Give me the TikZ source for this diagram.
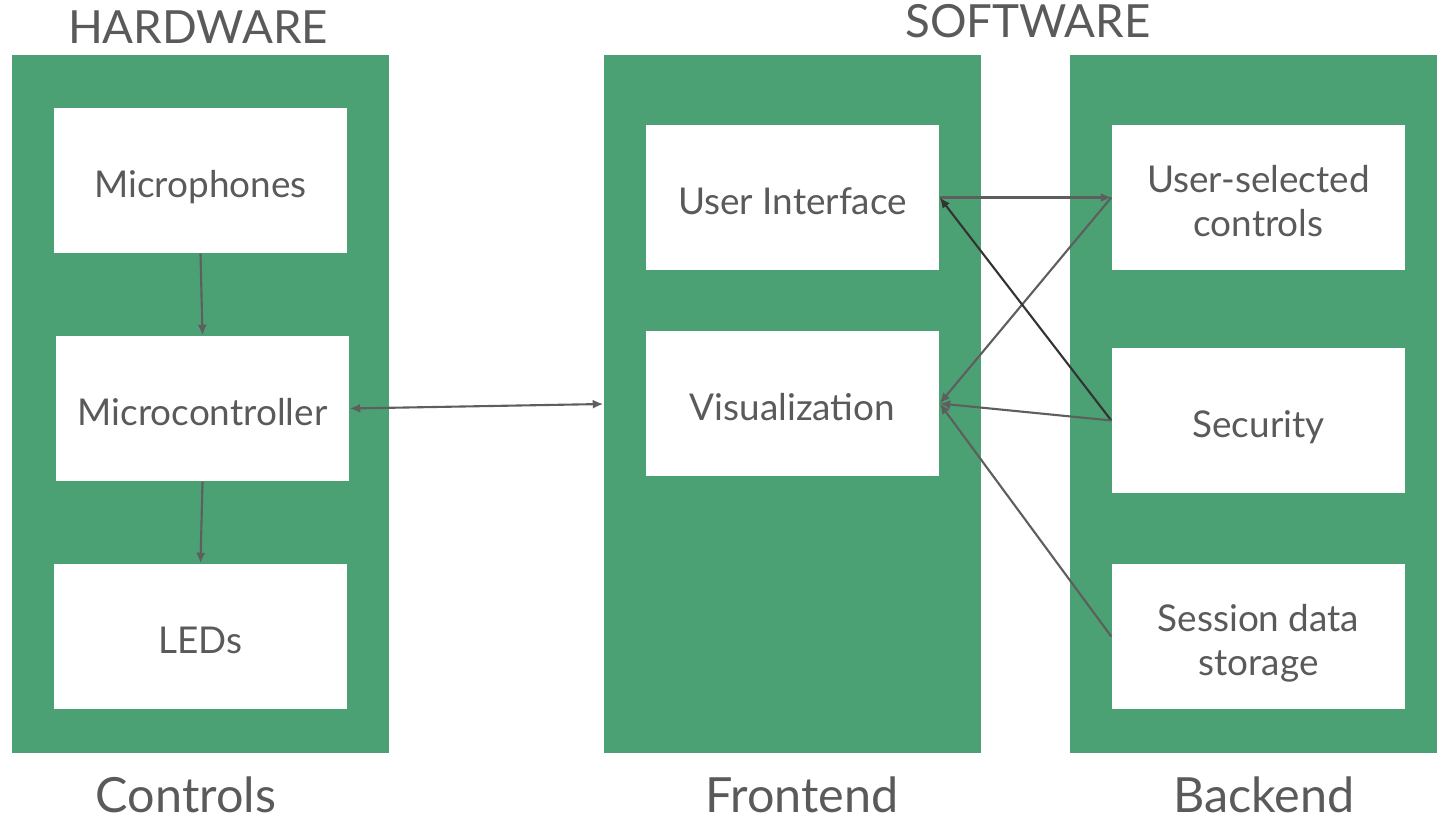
\documentclass[tikz,border=0pt]{standalone}
\usepackage{fontspec}
\setmainfont{Lato}
\usetikzlibrary{arrows.meta}
\definecolor{colgreen}{HTML}{4BA173}
\definecolor{txtgray}{HTML}{5A5A5A}
\definecolor{arrgray}{HTML}{5E5E5E}
\begin{document}
\begin{tikzpicture}[
    column/.style={fill=colgreen,minimum width=3.77cm,minimum height=6.98cm,inner sep=0pt},
    block/.style={fill=white,minimum width=2.93cm,minimum height=1.45cm,inner sep=0pt,
      text=txtgray,align=center,font=\fontsize{10.5}{12.5}\selectfont,
      text height=9.5pt,text depth=0pt},
    twolines/.style={text height=22pt},
    heading/.style={text=txtgray,font=\fontsize{13}{15}\selectfont,anchor=base,inner sep=0pt},
    title/.style={heading,font=\fontsize{13.8}{16}\selectfont},
    link/.style={draw=arrgray,line width=0.6pt,-{Latex[length=3pt,width=2.6pt]}}
  ]
  \useasboundingbox (0,0) rectangle (14.37,8.22);
  \node[column] (controls) at (2.005,4.18) {};
  \node[column] (front) at (7.925,4.18) {};
  \node[column,minimum width=3.67cm] (back) at (12.535,4.18) {};

  \node[heading] (hw) at (1.98,7.78) {HARDWARE};
  \node[heading] (sw) at (10.28,7.84) {SOFTWARE};
  \node[title] (lcontrols) at (1.86,0.1) {Controls};
  \node[title] (lfront) at (8.02,0.1) {Frontend};
  \node[title] (lback) at (12.64,0.1) {Backend};

  \node[block] (mic) at (2.005,6.415) {Microphones};
  \node[block] (mcu) at (2.025,4.135) {Microcontroller};
  \node[block] (leds) at (2.005,1.855) {LEDs};
  \node[block] (ui) at (7.925,6.245) {User Interface};
  \node[block] (vis) at (7.925,4.185) {Visualization};
  \node[block,twolines] (usc) at (12.585,6.245) {User-selected\\controls};
  \node[block] (sec) at (12.585,4.015) {Security};
  \node[block,twolines] (ses) at (12.585,1.855) {Session data\\storage};

  \draw[link] (mic.south) -- (mcu.north);
  \draw[link] (mcu.south) -- (leds.north);
  \draw[link,{Latex[length=3pt,width=2.6pt]}-{Latex[length=3pt,width=2.6pt]}] (mcu.east) -- (front.west);
  \draw[link] (ui.east) -- (usc.west);
  \draw[link] (usc.west) -- (vis.east);
  \draw[link,draw=black!80] (sec.west) -- (ui.east);
  \draw[link] (sec.west) -- (vis.east);
  \draw[link] (ses.west) -- (vis.east);
\end{tikzpicture}
\end{document}
